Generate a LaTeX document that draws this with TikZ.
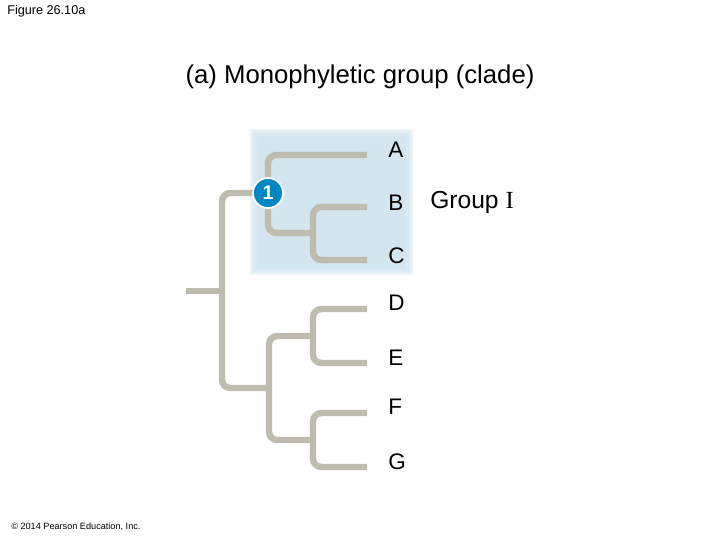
\documentclass[tikz,border=0pt]{standalone}
\usepackage{fontspec}
\setmainfont{Liberation Sans}
\newfontfamily\romanI{Liberation Serif}
\usepackage{xcolor}
\usetikzlibrary{positioning,calc}
\definecolor{branchgray}{RGB}{190,188,174}
\definecolor{cladeblue}{RGB}{206,227,238}
\definecolor{nodeblue}{RGB}{0,134,192}
\newlength{\pxu}
\setlength{\pxu}{0.025cm}
\tikzset{
  br/.style    = {line width=4.6pt, branchgray, rounded corners=6pt, line cap=butt},
  taxon/.style = {anchor=west, font=\fontsize{16}{18}\selectfont, inner sep=0pt},
  cnum/.style  = {circle, fill=nodeblue, draw=white, line width=1.2pt, text=white,
                  font=\fontsize{14}{16}\selectfont\bfseries, minimum size=30\pxu, inner sep=0pt},
  shade/.style = {fill=cladeblue, opacity=0.35},
}

\begin{document}
\begin{tikzpicture}[x=0.025cm, y=-0.025cm]
  \useasboundingbox (0,0) rectangle (720,540);
  \fill[white] (0,0) rectangle (720,540);

  \node[anchor=north west, font=\fontsize{9}{10}\selectfont, inner sep=0pt] (fig) at (7,5) {Figure 26.10a};
  \node[font=\fontsize{18.3}{21}\selectfont] (title) at (360,77) {(a) Monophyletic group (clade)};
  \node[anchor=south west, font=\fontsize{6.5}{7}\selectfont, inner sep=0pt] (copy) at (11,531) {\textcopyright{} 2014 Pearson Education, Inc.};

  % shaded clade, soft edges
  \foreach \d in {0,2,...,8}
    \fill[shade] (250+\d,129+\d) rectangle (413-\d,275-\d);

  % branch points
  \coordinate (o)  at (186,291);
  \coordinate (r)  at (222,291);
  \coordinate (n1) at (268,193);
  \coordinate (n2) at (313,233);
  \coordinate (n3) at (269,388);
  \coordinate (n4) at (313,336);
  \coordinate (n5) at (313,440);
  % tips
  \coordinate (lA) at (367,155);
  \coordinate (lB) at (367,207);
  \coordinate (lC) at (367,260);
  \coordinate (lD) at (367,309);
  \coordinate (lE) at (367,363);
  \coordinate (lF) at (367,413);
  \coordinate (lG) at (367,467);

  \draw[br] (o) -- (r);
  \draw[br] (n1) -| (r) |- (n3);
  \draw[br] (lA) -| (n1) |- (n2);
  \draw[br] (lB) -| (n2) |- (lC);
  \draw[br] (n4) -| (n3) |- (n5);
  \draw[br] (lD) -| (n4) |- (lE);
  \draw[br] (lF) -| (n5) |- (lG);

  \node[taxon] (A) at (388,150) {A};
  \node[taxon] (B) at (388,203) {B};
  \node[taxon] (C) at (388,256) {C};
  \node[taxon] (D) at (388,303) {D};
  \node[taxon] (E) at (388,358) {E};
  \node[taxon] (F) at (388,407) {F};
  \node[taxon] (G) at (388,462) {G};

  \node[cnum] (one) at (n1) {1};
  \node[anchor=west, font=\fontsize{17.5}{20}\selectfont, inner sep=0pt] (grp) at (430,202) {Group {\romanI I}};
\end{tikzpicture}
\end{document}
